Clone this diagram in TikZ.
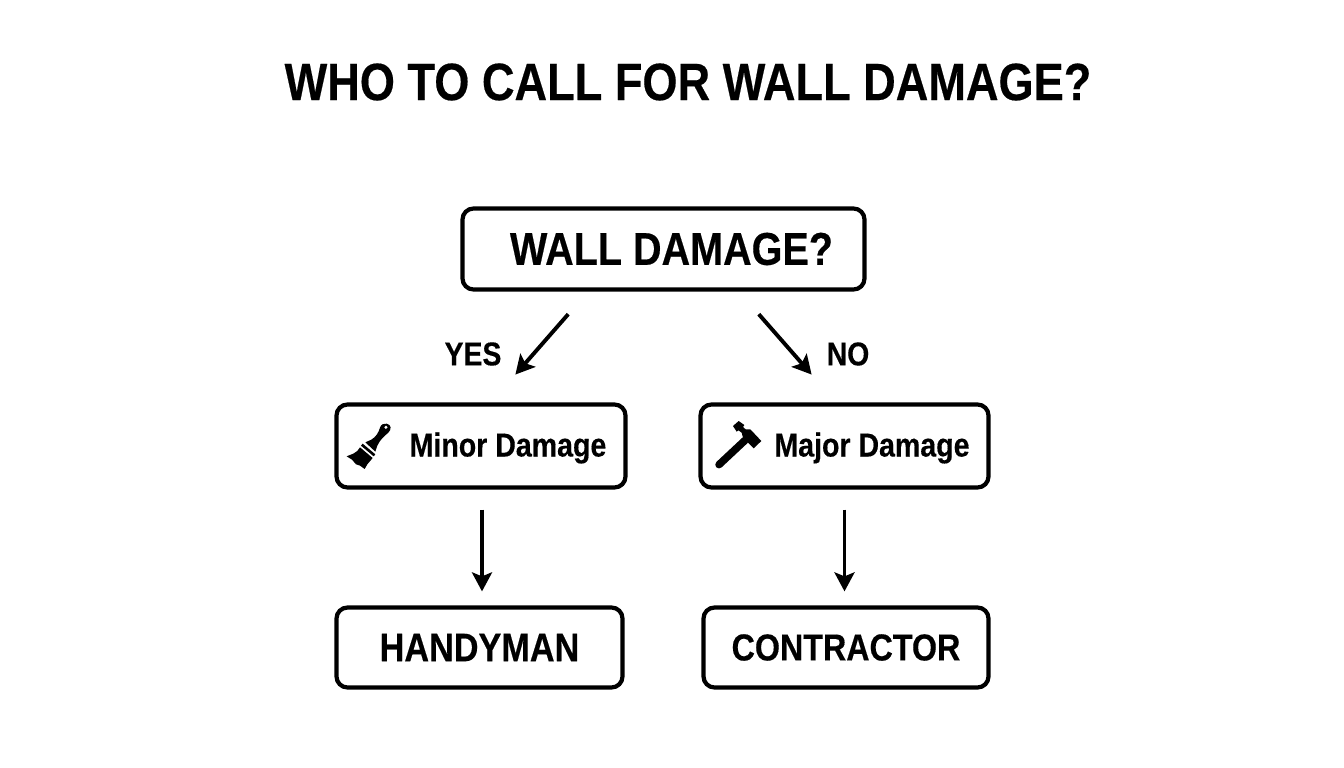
\documentclass[tikz,border=0pt]{standalone}
\usepackage{fontspec}
\setmainfont{Liberation Sans}[BoldFont={Liberation Sans Bold},BoldFeatures={FakeStretch=0.86,FakeBold=0.35}]
\usetikzlibrary{arrows.meta}
\tikzset{
  x=1pt,y=-1pt,
  box/.style={draw=black,line width=4.2pt,rounded corners=11pt,fill=white,inner sep=0pt,anchor=center,font=\bfseries},
  arrowline/.style={draw=black,line width=3.9pt,-{Stealth[length=19pt,width=20pt,inset=4pt]}},
  lbl/.style={inner sep=0pt,font=\bfseries\fontsize{33}{36}\selectfont},
}
\begin{document}
\begin{tikzpicture}
\useasboundingbox (0,0) rectangle (1344,768);
\node[inner sep=0pt,font=\bfseries\fontsize{52.5}{60}\selectfont] (title) at (688,82) {WHO TO CALL FOR WALL DAMAGE?};
\node[box,minimum width=402pt,minimum height=81pt,font=\bfseries\fontsize{46}{50}\selectfont] (root) at (663.5,249) {\hspace*{16pt}WALL DAMAGE?};
\node[box,minimum width=289pt,minimum height=83pt,font=\bfseries\fontsize{33.2}{36}\selectfont] (minor) at (481,446) {\hspace*{54pt}\raisebox{-10.5pt}[0pt][0pt]{Minor Damage}};
\node[box,minimum width=288pt,minimum height=83pt,font=\bfseries\fontsize{33.2}{36}\selectfont] (major) at (844.5,446) {\hspace*{55pt}\raisebox{-10.5pt}[0pt][0pt]{Major Damage}};
\node[box,minimum width=286pt,minimum height=80pt,font=\bfseries\fontsize{39.8}{42}\selectfont] (handy) at (479.5,647.5) {HANDYMAN};
\node[box,minimum width=285pt,minimum height=80pt,font=\bfseries\fontsize{37.5}{42}\selectfont] (contr) at (846,647.5) {CONTRACTOR};
\node[lbl] (yes) at (473,354) {YES};
\node[lbl] (no) at (848,354) {NO};
\draw[arrowline,shorten <=30pt,shorten >=37pt] ([xshift=-75.5pt]root.south) -- ([xshift=10pt]minor.north);
\draw[arrowline,shorten <=30pt,shorten >=37pt] ([xshift=75.5pt]root.south) -- ([xshift=-8.5pt]major.north);
\draw[arrowline,shorten <=20pt,shorten >=14pt] ([xshift=1pt]minor.south) -- ([xshift=1pt]minor.south |- handy.north);
\draw[arrowline,shorten <=20pt,shorten >=14pt] (major.south) -- (major.south |- contr.north);
% brush icon
\begin{scope}[shift={(330,395)},x=0.3333pt,y=-0.3333pt]
\fill[black] (170,86) .. controls (184,88) and (186,104) .. (174,114) .. controls (164,122) and (150,134) .. (142,152) -- (136,170) -- (106,142) -- (124,134) .. controls (138,126) and (146,112) .. (150,98) .. controls (153,88) and (162,84) .. (170,86) -- cycle;
\fill[white] (168,97) circle (5);
\fill[black] (98,146) -- (136,178) -- (131,184) -- (93,152) -- cycle;
\fill[black] (90,157) -- (128,189) -- (112,208) -- (104,222) -- (90,212) -- (78,208) -- (66,194) -- (50,184) -- (70,176) .. controls (80,172) and (86,164) .. (90,157) -- cycle;
\end{scope}
% hammer icon
\begin{scope}[shift={(695,395)},x=0.3333pt,y=-0.3333pt]
\fill[black] (131,78) -- (148,90) -- (144,96) -- (152,103) -- (166,103) -- (199,138) -- (176,160) -- (144,128) -- (140,113) -- (130,106) -- (125,110) -- (114,93) -- cycle;
\draw[black,line width=7.5pt,line cap=round] (150,136) -- (72,209);
\end{scope}
\end{tikzpicture}
\end{document}
